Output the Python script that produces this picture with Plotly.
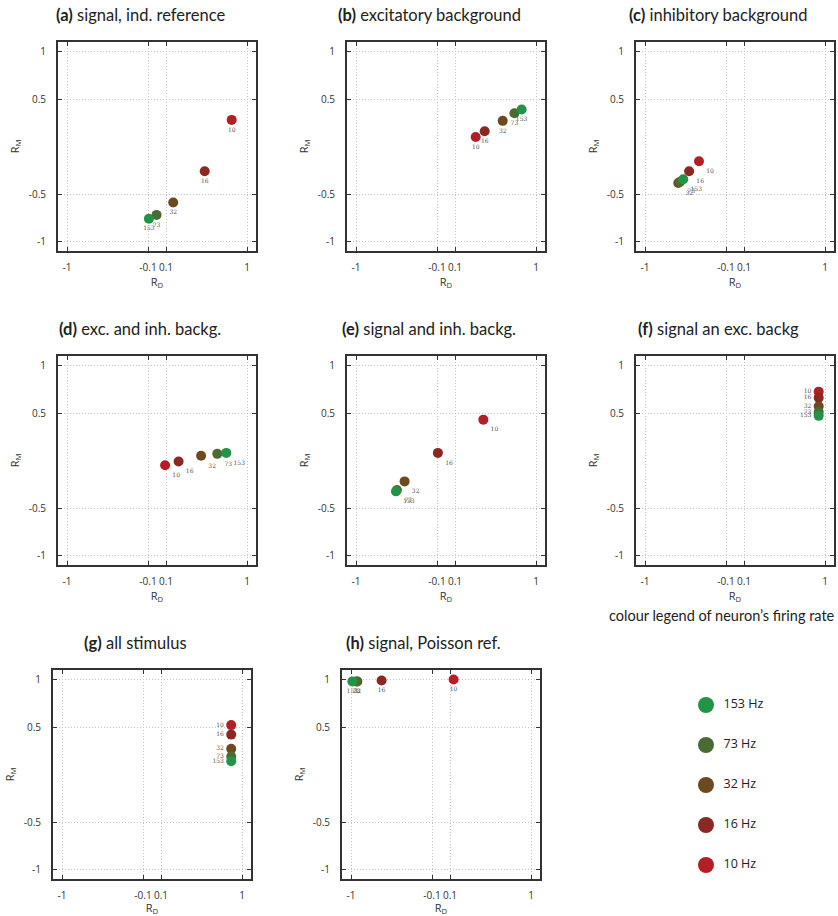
import plotly.graph_objects as go

W, H = 838, 916

freqs = [153, 73, 32, 16, 10]
freq_labels = ["153", "73", "32", "16", "10"]
colors = ["#239447", "#4a6b33", "#6b4a1f", "#8a2822", "#b41f27"]

titles = ["(a)", "(b)", "(c)", "(d)", "(e)", "(f)", "(g)", "(h)"]
subtitles = ["signal, ind. reference", "excitatory background", "inhibitory background",
             "exc. and inh. backg.", "signal and inh. backg.", "signal an exc. backg",
             "all stimulus", "signal, Poisson ref."]

# R_D (x) and R_M (y) per panel, ordered as freqs [153, 73, 32, 16, 10]
rd = {
    "a": [-0.09, -0.005, 0.18, 0.53, 0.83],
    "b": [0.84, 0.76, 0.63, 0.43, 0.33],
    "c": [-0.575, -0.61, -0.63, -0.51, -0.40],
    "d": [0.77, 0.67, 0.49, 0.24, 0.09],
    "e": [-0.556, -0.545, -0.46, -0.09, 0.415],
    "f": [0.93, 0.93, 0.93, 0.93, 0.93],
    "g": [0.88, 0.88, 0.88, 0.88, 0.88],
    "h": [-0.985, -0.94, -0.93, -0.66, 0.14],
}
rm = {
    "a": [-0.76, -0.72, -0.59, -0.26, 0.28],
    "b": [0.39, 0.35, 0.27, 0.16, 0.10],
    "c": [-0.345, -0.37, -0.385, -0.26, -0.155],
    "d": [0.08, 0.07, 0.05, -0.01, -0.05],
    "e": [-0.325, -0.31, -0.22, 0.08, 0.43],
    "f": [0.47, 0.51, 0.57, 0.66, 0.725],
    "g": [0.14, 0.19, 0.27, 0.42, 0.52],
    "h": [0.98, 0.98, 0.98, 0.99, 1.0],
}
label_pos = {"a": "bottom center", "b": "bottom center", "c": "bottom right",
             "d": "bottom right", "e": "bottom right", "f": "middle left",
             "g": "middle left", "h": "bottom center"}

x_ticks = [-1, -0.1, 0.1, 1]
x_ticktext = ["-1", "-0.1", "0.1", "1"]
y_ticks = [-1, -0.5, 0.5, 1]
y_ticktext = ["-1", "-0.5", "0.5", "1"]

legend_title = "colour legend of neuron\u2019s firing rate"
legend_text = ["153 Hz", "73 Hz", "32 Hz", "16 Hz", "10 Hz"]
legend_index = [4, 3, 2, 1, 0]

# panel boxes in pixels: (left, right, top, bottom)
boxes = {
    "a": (58, 256, 42, 251), "b": (347, 545, 42, 251), "c": (636, 834, 42, 251),
    "d": (58, 256, 356, 565), "e": (347, 545, 356, 565), "f": (636, 834, 356, 565),
    "g": (53, 251, 670, 879), "h": (342, 540, 670, 879),
}

def px(x):
    return x / W

def py(y):
    return 1 - y / H

fig = go.Figure()
layout = {}
annotations = []
keys = list("abcdefgh")
for i, k in enumerate(keys):
    n = i + 1
    xa = "xaxis" if n == 1 else f"xaxis{n}"
    ya = "yaxis" if n == 1 else f"yaxis{n}"
    xr = "x" if n == 1 else f"x{n}"
    yr = "y" if n == 1 else f"y{n}"
    l, r, t, b = boxes[k]
    common = dict(range=[-1.1, 1.1], showline=True, mirror="ticks", linecolor="#333333",
                  linewidth=2, ticks="inside", ticklen=4, tickcolor="#333333", tickwidth=1,
                  showgrid=True, gridcolor="#c4c4c4", griddash="1px,2px", gridwidth=1,
                  zeroline=False, tickfont=dict(family="Open Sans", size=10, color="#333333"),
                  fixedrange=True)
    layout[xa] = dict(common, domain=[px(l), px(r)], anchor=yr, tickvals=x_ticks,
                      ticktext=x_ticktext, ticklabelstandoff=6,
                      title=dict(text="R<sub>D</sub>", standoff=3,
                                 font=dict(family="Open Sans", size=11, color="#333333")))
    layout[ya] = dict(common, domain=[py(b), py(t)], anchor=xr, tickvals=y_ticks,
                      ticktext=y_ticktext, ticklabelstandoff=8,
                      title=dict(text="R<sub>M</sub>", standoff=7,
                                 font=dict(family="Open Sans", size=11, color="#333333")))
    xs = rd[k][::-1]
    ys = rm[k][::-1]
    fig.add_trace(go.Scatter(
        x=xs, y=ys, xaxis=xr, yaxis=yr, mode="markers+text",
        marker=dict(size=10, color=colors[::-1], line=dict(width=0)),
        text=freq_labels[::-1], textposition=label_pos[k],
        textfont=dict(family="DejaVu Serif", size=6, color="#555555"),
        showlegend=False, cliponaxis=False, hoverinfo="skip"))
    annotations.append(dict(
        text=f"<b>{titles[i]}</b> {subtitles[i]}", xref="paper", yref="paper",
        x=px((l + r) / 2 - 17), y=py(t - 27), xanchor="center", yanchor="middle",
        showarrow=False, font=dict(family="Lato", size=16.5, color="#222222")))

# legend panel
layout["xaxis9"] = dict(domain=[px(686), px(838)], range=[-1, 6.6], visible=False,
                        anchor="y9", fixedrange=True)
layout["yaxis9"] = dict(domain=[py(885), py(685)], range=[-0.5, 4.5], visible=False,
                        anchor="x9", fixedrange=True)
fig.add_trace(go.Scatter(
    x=[0] * 5, y=legend_index, xaxis="x9", yaxis="y9", mode="markers+text",
    marker=dict(size=16, color=colors), text=["\u00a0\u00a0" + s for s in legend_text],
    textposition="middle right",
    textfont=dict(family="Open Sans", size=12.5, color="#222222"),
    showlegend=False, hoverinfo="skip", cliponaxis=False))
annotations.append(dict(
    text=legend_title, xref="paper", yref="paper", x=px(722), y=py(615),
    xanchor="center", yanchor="middle", showarrow=False,
    font=dict(family="Lato", size=14.5, color="#222222")))

fig.update_layout(width=W, height=H, margin=dict(l=0, r=0, t=0, b=0),
                  plot_bgcolor="white", paper_bgcolor="white",
                  annotations=annotations, **layout)
fig.write_html("out.html")
